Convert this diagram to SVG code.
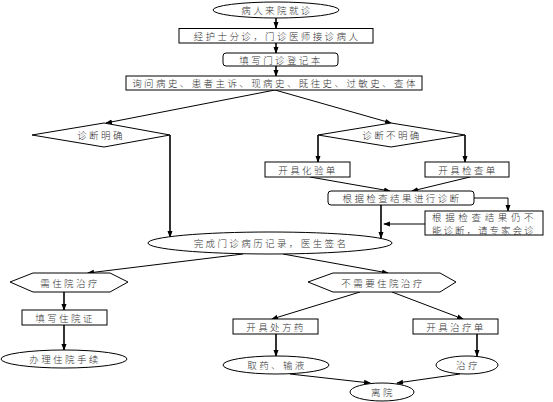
<svg xmlns="http://www.w3.org/2000/svg" width="553" height="402" viewBox="0 0 553 402">
<defs>
<marker id="arr" markerUnits="userSpaceOnUse" markerWidth="7" markerHeight="6" refX="6" refY="3" orient="auto">
<path d="M0,0.5 L7,3 L0,5.5 Z" fill="#000"/>
</marker>
<style>
.s{fill:#fff;stroke:#000;stroke-width:1}
.t{font-family:"Noto Sans CJK SC","Noto Sans CJK JP",sans-serif;font-size:9.5px;font-weight:300;letter-spacing:2.4px;fill:#333;text-anchor:middle;dominant-baseline:central}
.c{fill:none;stroke:#000;stroke-width:1}
.v{fill:none;stroke:#000;stroke-width:1.6}
</style>
</defs>
<rect width="553" height="402" fill="#fff"/>
<g id="connectors">
<line class="v" x1="276" y1="18" x2="276" y2="28" marker-end="url(#arr)"/>
<line class="v" x1="276" y1="43" x2="276" y2="53" marker-end="url(#arr)"/>
<line class="v" x1="276" y1="66" x2="276" y2="76" marker-end="url(#arr)"/>
<line class="c" x1="275" y1="90" x2="106" y2="123" marker-end="url(#arr)"/>
<line class="c" x1="275" y1="90" x2="391" y2="123" marker-end="url(#arr)"/>
<line class="v" x1="170" y1="135" x2="170" y2="237" marker-end="url(#arr)"/>
<polyline class="v" points="318,135 318,162" marker-end="url(#arr)"/>
<polyline class="v" points="465,135 465,162" marker-end="url(#arr)"/>
<line class="c" x1="310" y1="177" x2="390" y2="191" marker-end="url(#arr)"/>
<line class="c" x1="470" y1="177" x2="412" y2="191" marker-end="url(#arr)"/>
<polyline class="c" points="474,198 508,198 508,211" marker-end="url(#arr)"/>
<line class="c" x1="425" y1="224" x2="384" y2="224" marker-end="url(#arr)"/>
<line class="v" x1="381" y1="205" x2="381" y2="238" marker-end="url(#arr)"/>
<line class="c" x1="243" y1="254" x2="88" y2="273" marker-end="url(#arr)"/>
<line class="c" x1="283" y1="254" x2="388" y2="273" marker-end="url(#arr)"/>
<line class="v" x1="64" y1="292" x2="64" y2="310" marker-end="url(#arr)"/>
<line class="v" x1="64" y1="325" x2="64" y2="350" marker-end="url(#arr)"/>
<line class="c" x1="360" y1="292" x2="272" y2="319" marker-end="url(#arr)"/>
<line class="c" x1="392" y1="292" x2="463" y2="319" marker-end="url(#arr)"/>
<line class="v" x1="276" y1="334" x2="276" y2="356" marker-end="url(#arr)"/>
<line class="v" x1="477" y1="334" x2="477" y2="356" marker-end="url(#arr)"/>
<line class="c" x1="290" y1="374" x2="370" y2="383" marker-end="url(#arr)"/>
<line class="c" x1="460" y1="374" x2="397" y2="383" marker-end="url(#arr)"/>
</g>
<g id="n1"><ellipse class="s" cx="276" cy="10" rx="63" ry="8"/><text class="t" x="277" y="10">病人来院就诊</text></g>
<g id="n2"><rect class="s" x="179" y="28.5" width="194" height="14.5"/><text class="t" x="277" y="36">经护士分诊，门诊医师接诊病人</text></g>
<g id="n3"><rect class="s" x="223" y="53" width="115" height="13" rx="3"/><text class="t" x="281" y="59.5">填写门诊登记本</text></g>
<g id="n4"><rect class="s" x="126" y="76" width="296" height="14"/><text class="t" x="275" y="83">询问病史、患者主诉、现病史、既往史、过敏史、查体</text></g>
<g id="n5"><polygon class="s" points="32,135 104,123 170,135 104,147"/><text class="t" x="101" y="135">诊断明确</text></g>
<g id="n6"><polygon class="s" points="318,135 391,123 465,135 391,147"/><text class="t" x="392" y="135">诊断不明确</text></g>
<g id="n7"><rect class="s" x="265" y="162" width="85" height="15"/><text class="t" x="308" y="169.5">开具化验单</text></g>
<g id="n8"><rect class="s" x="425" y="162" width="84" height="15"/><text class="t" x="468" y="169.5">开具检查单</text></g>
<g id="n9"><rect class="s" x="328" y="191" width="146" height="14" rx="3"/><text class="t" x="402" y="198">根据检查结果进行诊断</text></g>
<g id="n10"><rect class="s" x="425" y="211" width="118" height="24"/><text class="t" x="484" y="217" textLength="104" lengthAdjust="spacing">根据检查结果仍不</text><text class="t" x="484" y="229.5" textLength="104" lengthAdjust="spacing">能诊断，请专家会诊</text></g>
<g id="n11"><ellipse class="s" cx="270" cy="243" rx="122" ry="11"/><text class="t" x="271" y="243">完成门诊病历记录，医生签名</text></g>
<g id="n12"><polygon class="s" points="10,282 33,273 110,273 128,282 110,292 33,292"/><text class="t" x="70" y="282.5">需住院治疗</text></g>
<g id="n13"><rect class="s" x="22" y="310" width="85" height="15"/><text class="t" x="65" y="317.5">填写住院证</text></g>
<g id="n14"><ellipse class="s" cx="64" cy="359" rx="63" ry="9"/><text class="t" x="65" y="359">办理住院手续</text></g>
<g id="n15"><polygon class="s" points="308,282 333,273 440,273 456,282 440,292 333,292"/><text class="t" x="383" y="282.5">不需要住院治疗</text></g>
<g id="n16"><rect class="s" x="233" y="319" width="85" height="15"/><text class="t" x="276" y="326.5">开具处方药</text></g>
<g id="n17"><rect class="s" x="413" y="319" width="85" height="15"/><text class="t" x="456" y="326.5">开具治疗单</text></g>
<g id="n18"><ellipse class="s" cx="276" cy="365" rx="53" ry="9"/><text class="t" x="277" y="365">取药、输液</text></g>
<g id="n19"><ellipse class="s" cx="467" cy="365" rx="31" ry="9"/><text class="t" x="468" y="365">治疗</text></g>
<g id="n20"><ellipse class="s" cx="382" cy="392" rx="32" ry="9"/><text class="t" x="383" y="392">离院</text></g>
</svg>
